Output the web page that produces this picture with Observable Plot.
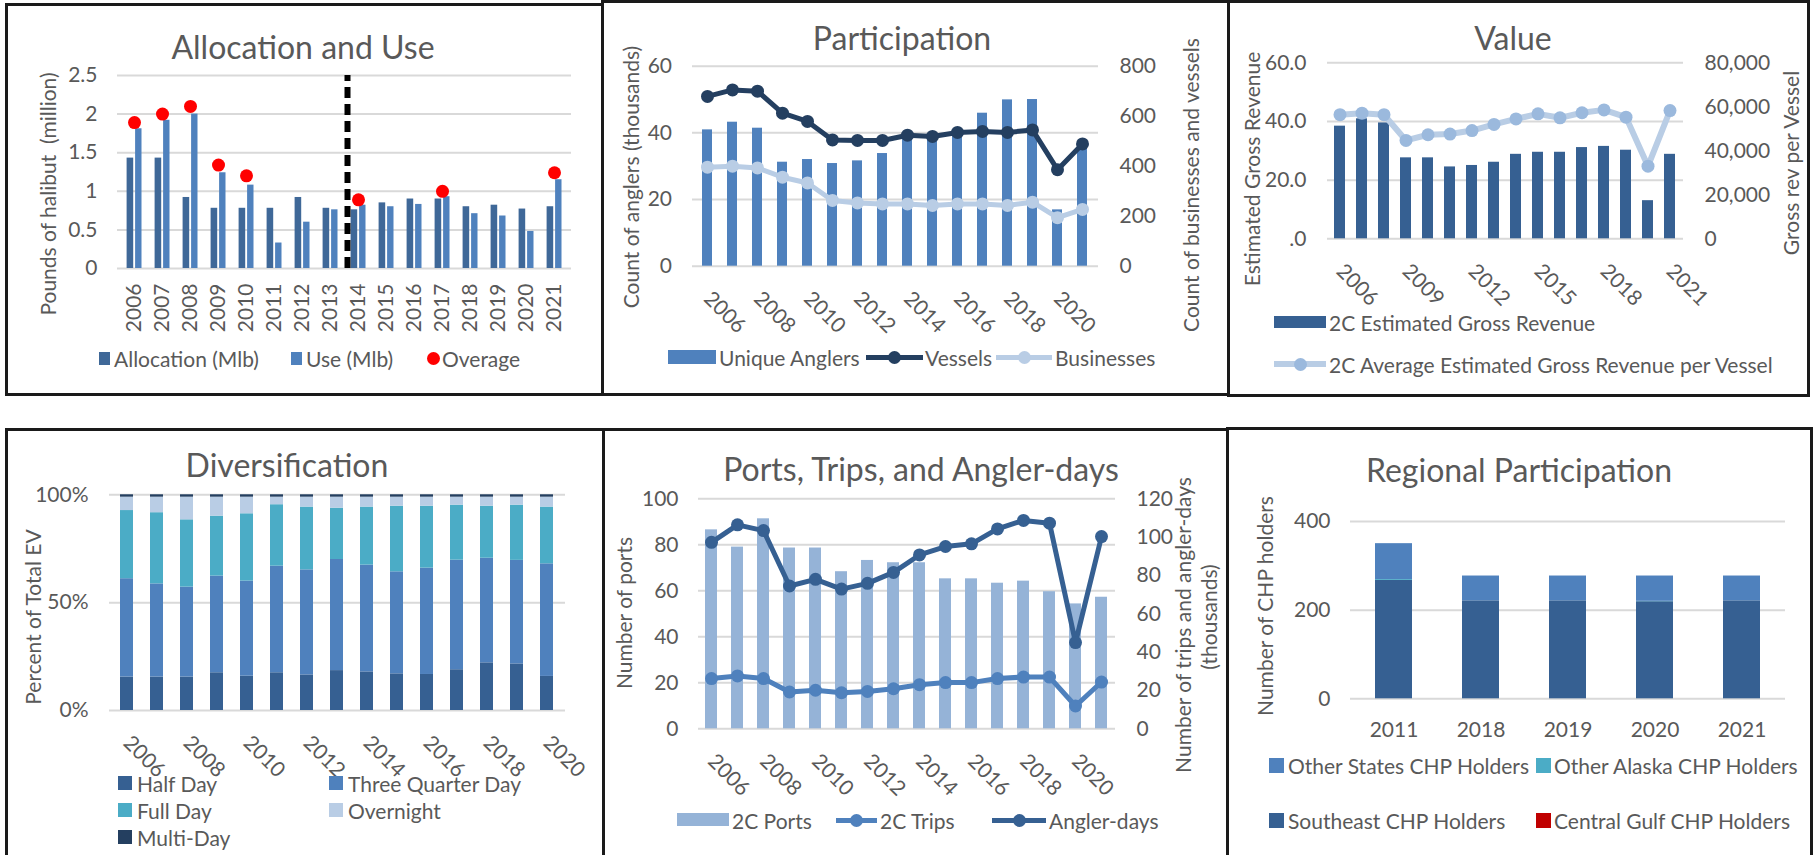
<!DOCTYPE html>
<html><head><meta charset="utf-8">
<script src="https://cdn.jsdelivr.net/npm/d3@7"></script>
<script src="https://cdn.jsdelivr.net/npm/@observablehq/plot@0.6"></script>
<style>
body{margin:0;width:1813px;height:855px;background:#fff;overflow:hidden;position:relative;font-family:Lato,"Open Sans",sans-serif;color:#595959;}
.box{position:absolute;border:3px solid #1a1a1a;box-sizing:border-box;}
.t{position:absolute;white-space:pre;line-height:1;color:#595959;}
.sw{position:absolute;}
</style></head><body>
<script>
// ---------- DATA ----------
const years = ["2006","2007","2008","2009","2010","2011","2012","2013","2014","2015","2016","2017","2018","2019","2020","2021"];
// Allocation and Use (million lb)
const allocation = [1.43,1.43,0.92,0.78,0.78,0.78,0.92,0.78,0.76,0.85,0.90,0.90,0.80,0.82,0.77,0.80];
const use = [1.81,1.92,2.00,1.24,1.08,0.33,0.60,0.76,0.82,0.80,0.83,0.93,0.71,0.68,0.48,1.15];
const overage = [1.89,2.00,2.10,1.34,1.20,null,null,null,0.89,null,null,1.00,null,null,null,1.24];
const allocTicks = [0,0.5,1,1.5,2,2.5];
// Participation
const uniqueAnglers = [40.9,43.2,41.4,31.2,32.0,30.8,31.6,33.8,39.0,39.5,40.2,45.9,49.9,50.0,16.9,36.5];
const vessels = [679,705,700,612,579,505,503,503,524,519,535,539,535,545,386,489];
const businesses = [396,400,393,356,333,263,253,249,249,243,249,249,243,256,194,227];
const anglerTicks = [0,20,40,60];
const countTicks = [0,200,400,600,800];
const evenYearLabels = ["2006","2008","2010","2012","2014","2016","2018","2020"];
// Value
const grossRevenue = [38.4,40.9,39.5,27.6,27.6,24.5,25.0,26.1,28.8,29.5,29.5,31.1,31.5,30.2,13.0,28.8];
const revPerVessel = [56400,57100,56400,44700,47300,47600,49200,52000,54500,56800,55000,57300,58600,55300,33000,58300];
const revenueTicks = [0,20,40,60];
const perVesselTicks = [0,20000,40000,60000,80000];
const valueYearLabels = ["2006","2009","2012","2015","2018","2021"];
// Diversification (% of total EV)
const divYears = years.slice(0,15);
const divCats = ["Half Day","Three Quarter Day","Full Day","Overnight","Multi-Day"];
const halfDay =      [15.5,15.5,15.5,17.5,15.9,17.5,16.5,18.5,17.9,17.0,16.7,18.9,22.1,21.6,15.8];
const threeQuarter = [45.6,43.2,41.7,44.8,44.1,49.4,48.7,51.5,49.5,47.3,49.3,50.8,48.5,48.0,52.2];
const fullDay =      [31.6,33.0,31.2,27.8,31.2,28.5,29.1,23.8,26.9,30.4,28.7,25.5,24.1,25.6,26.3];
const overnight =    [6.2,7.2,10.5,8.8,7.7,3.5,4.6,5.1,4.6,4.2,4.2,3.7,4.2,3.7,4.6];
const multiDay =     [1.1,1.1,1.1,1.1,1.1,1.1,1.1,1.1,1.1,1.1,1.1,1.1,1.1,1.1,1.1];
const pctTicks = [0,50,100];
// Ports, Trips, Angler-days
const ports = [86.5,79.0,91.3,78.6,78.6,68.3,73.2,72.2,72.2,65.2,65.2,63.3,64.2,59.6,54.3,57.2];
const trips = [26.2,27.6,26.2,19.2,20.1,18.8,19.5,20.9,23.0,24.1,24.1,26.2,27.0,27.0,11.9,24.4];
const anglerDays = [97.3,106.4,103.4,74.5,78.0,72.9,75.9,81.6,90.7,95.1,96.5,104.3,108.7,107.3,45.0,100.3];
const portTicks = [0,20,40,60,80,100];
const tripTicks = [0,20,40,60,80,100,120];
// Regional participation
const regYears = ["2011","2018","2019","2020","2021"];
const regCats = ["Southeast CHP Holders","Central Gulf CHP Holders","Other Alaska CHP Holders","Other States CHP Holders"];
const southeast = [267,221,221,219,221];
const centralGulf = [0,0,0,0,0];
const otherAlaska = [2,0,0,1,0];
const otherStates = [81,56,56,57,56];
const chpTicks = [0,200,400];

// ---------- COLORS ----------
const GRID = "#d9d9d9", TXT = "#595959";
const C_ALLOC = "#3f6898", C_USE = "#4f81bd", C_RED = "#ff0000";
const C_ANG = "#4f81bd", C_VES = "#243f60", C_BUS = "#b9cde5";
const C_REV = "#366092", C_RLINE = "#b9cde5", C_RDOT = "#9bb9dd";
const divColors = ["#366092","#4f81bd","#4bacc6","#b9cde5","#243f60"];
const C_PORT = "#95b3d7", C_TRIP = "#4f81bd", C_AD = "#366092";
const regColors = ["#366092","#c00000","#4bacc6","#4f81bd"];

// ---------- HELPERS ----------
const FS = 21, TS = 32;
const baseStyle = {fontFamily:"Lato, 'Open Sans', sans-serif", fontSize:FS+"px", color:TXT, background:"transparent", overflow:"visible"};
function mount(svg, left, top){
  svg.style.position="absolute"; svg.style.left=left+"px"; svg.style.top=top+"px";
  svg.style.overflow="visible"; svg.style.background="transparent";
  document.body.appendChild(svg);
}
function box(l,t,r,b){
  const d=document.createElement("div"); d.className="box";
  Object.assign(d.style,{left:l+"px",top:t+"px",width:(r-l)+"px",height:(b-t)+"px"});
  document.body.appendChild(d);
}
function label(str,x,y,size=FS,rot=0,anchor="middle"){
  const d=document.createElement("div"); d.className="t"; d.textContent=str;
  d.style.fontSize=size+"px"; d.style.left=x+"px"; d.style.top=y+"px";
  d.style.transform=`translate(${anchor==="start"?"0":"-50%"},-50%)`+(rot?` rotate(${rot}deg)`:"");
  document.body.appendChild(d);
}
function rectSw(x,y,w,h,c){
  const d=document.createElement("div"); d.className="sw";
  Object.assign(d.style,{left:x+"px",top:y+"px",width:w+"px",height:h+"px",background:c});
  document.body.appendChild(d);
}
function dotSw(cx,cy,r,c){
  const d=document.createElement("div"); d.className="sw";
  Object.assign(d.style,{left:(cx-r)+"px",top:(cy-r)+"px",width:2*r+"px",height:2*r+"px",background:c,borderRadius:"50%"});
  document.body.appendChild(d);
}
function lineSw(x1,x2,cy,c,w,dc,r){
  rectSw(x1,cy-w/2,x2-x1,w,c); dotSw((x1+x2)/2,cy,r,dc||c);
}

// ---------- BOXES ----------
box(5,3,604,396); box(601,0,1230,396); box(1227,0,1810,397);
box(5,428,605,858); box(602,428,1229,858); box(1226,427,1813,858);

// ---------- PANEL 1: Allocation and Use ----------
const allocTable = years.map((year,i)=>({year, allocation:allocation[i], use:use[i], overage:overage[i]}));
mount(Plot.plot({
  width:602, height:394, marginLeft:117, marginRight:31, marginTop:75, marginBottom:126,
  x:{type:"band", domain:years, paddingInner:0, paddingOuter:0},
  y:{domain:[0,2.5]},
  style:baseStyle,
  marks:[
    Plot.ruleY(allocTicks,{stroke:GRID, strokeWidth:2}),
    Plot.barY(allocTable,{x:"year", y:"allocation", fill:C_ALLOC, insetLeft:6.6, insetRight:14.8}),
    Plot.barY(allocTable,{x:"year", y:"use", fill:C_USE, insetLeft:15.1, insetRight:6.5}),
    Plot.ruleX(["2014"],{x:d=>d, y1:0, y2:2.5, stroke:"#000", strokeWidth:6, strokeDasharray:"11 6", dx:-11}),
    Plot.dot(allocTable.filter(d=>d.overage!=null),{x:"year", y:"overage", r:6.5, fill:C_RED}),
    Plot.axisY(allocTicks,{tickSize:0, tickPadding:20, label:null, tickFormat:d=>String(d)}),
    Plot.axisX({tickSize:0, tickPadding:15, tickRotate:-90, label:null})
  ]
}),0,0);
label("Allocation and Use",303,47,TS);
label("Pounds of halibut  (million)",47,194,FS,-90);
rectSw(99,352,11,13,C_ALLOC); label("Allocation (Mlb)",114,358,FS,0,"start");
rectSw(291,352,11,13,C_USE); label("Use (Mlb)",306,358,FS,0,"start");
dotSw(433,358,6.5,C_RED); label("Overage",442,358,FS,0,"start");

// ---------- PANEL 2: Participation ----------
const partTable = years.map((year,i)=>({year, anglers:uniqueAnglers[i], vessels:vessels[i], businesses:businesses[i]}));
const xPart = {type:"band", domain:years, paddingInner:0.594, paddingOuter:0.297};
const p2dims = {width:626, height:394, marginLeft:90, marginRight:130, marginTop:65.7, marginBottom:128.3};
mount(Plot.plot({...p2dims, x:xPart, y:{domain:[0,60]}, style:baseStyle, marks:[
  Plot.ruleY(anglerTicks,{stroke:GRID, strokeWidth:2}),
  Plot.barY(partTable,{x:"year", y:"anglers", fill:C_ANG}),
  Plot.axisY(anglerTicks,{tickSize:0, tickPadding:20.5, label:null}),
  Plot.axisX(evenYearLabels,{tickSize:0, tickPadding:29, tickRotate:45, label:null})
]}),602,0);
mount(Plot.plot({...p2dims, x:{...xPart, axis:null}, y:{domain:[0,800]}, style:baseStyle, marks:[
  Plot.line(partTable,{x:"year", y:"vessels", stroke:C_VES, strokeWidth:5}),
  Plot.dot(partTable,{x:"year", y:"vessels", r:6.5, fill:C_VES}),
  Plot.line(partTable,{x:"year", y:"businesses", stroke:C_BUS, strokeWidth:5}),
  Plot.dot(partTable,{x:"year", y:"businesses", r:6.5, fill:C_BUS}),
  Plot.axisY(countTicks,{anchor:"right", tickSize:0, tickPadding:21, label:null})
]}),602,0);
label("Participation",902,38,TS);
label("Count of anglers (thousands)",630,177,FS,-90);
label("Count of businesses and vessels",1190,185,FS,-90);
rectSw(668,350,48,14,C_ANG); label("Unique Anglers",719,357,FS,0,"start");
lineSw(866,923,357,C_VES,5,C_VES,6.5); label("Vessels",925,357,FS,0,"start");
lineSw(996,1052,357,C_BUS,5,C_BUS,6.5); label("Businesses",1055,357,FS,0,"start");

// ---------- PANEL 3: Value ----------
const valTable = years.map((year,i)=>({year, revenue:grossRevenue[i], perVessel:revPerVessel[i]}));
const xVal = {type:"band", domain:years, paddingInner:0.49, paddingOuter:0.245};
const p3dims = {width:580, height:395, marginLeft:99, marginRight:125, marginTop:62.3, marginBottom:156.7};
mount(Plot.plot({...p3dims, x:xVal, y:{domain:[0,60]}, style:baseStyle, marks:[
  Plot.ruleY(revenueTicks,{stroke:GRID, strokeWidth:2}),
  Plot.barY(valTable,{x:"year", y:"revenue", fill:C_REV}),
  Plot.axisY(revenueTicks,{tickSize:0, tickPadding:21, label:null, tickFormat:d=>d===0?".0":d.toFixed(1)}),
  Plot.axisX(valueYearLabels,{tickSize:0, tickPadding:29, tickRotate:45, label:null})
]}),1228,0);
mount(Plot.plot({...p3dims, x:{...xVal, axis:null}, y:{domain:[0,80000]}, style:baseStyle, marks:[
  Plot.line(valTable,{x:"year", y:"perVessel", stroke:C_RLINE, strokeWidth:6}),
  Plot.dot(valTable,{x:"year", y:"perVessel", r:6.5, fill:C_RDOT}),
  Plot.axisY(perVesselTicks,{anchor:"right", tickSize:0, tickPadding:21, label:null, tickFormat:d3.format(",")})
]}),1228,0);
label("Value",1513,38,TS);
label("Estimated Gross Revenue",1251,169,FS,-90);
label("Gross rev per Vessel",1790,163,FS,-90);
rectSw(1274,316,52,12,C_REV); label("2C Estimated Gross Revenue",1329,322,FS,0,"start");
lineSw(1274,1326,364,C_RLINE,6,C_RDOT,6.5); label("2C Average Estimated Gross Revenue per Vessel",1329,364,FS,0,"start");

// ---------- PANEL 4: Diversification ----------
const divSeries = [halfDay,threeQuarter,fullDay,overnight,multiDay];
const divTable = divYears.flatMap((year,i)=>divCats.map((cat,j)=>({year, cat, value:divSeries[j][i]})));
mount(Plot.plot({
  width:603, height:330, marginLeft:109, marginRight:38, marginTop:66.3, marginBottom:48,
  x:{type:"band", domain:divYears, paddingInner:0.56, paddingOuter:0.28},
  y:{domain:[0,100]},
  color:{domain:divCats, range:divColors},
  style:baseStyle,
  marks:[
    Plot.ruleY(pctTicks,{stroke:GRID, strokeWidth:2}),
    Plot.barY(divTable,{x:"year", y:"value", fill:"cat"}),
    Plot.axisY(pctTicks,{tickSize:0, tickPadding:21, label:null, tickFormat:d=>d+"%"}),
    Plot.axisX(evenYearLabels,{tickSize:0, tickPadding:29, tickRotate:45, label:null})
  ]
}),0,428);
label("Diversification",287,465,TS);
label("Percent of Total EV",32,617,FS,-90);
[[0,118,776],[1,329,776],[2,118,803],[3,329,803],[4,118,830]].forEach(([j,x,y])=>{
  rectSw(x,y,14,14,divColors[j]); label(divCats[j],x+19,y+7,FS,0,"start");
});

// ---------- PANEL 5: Ports, Trips, Angler-days ----------
const portTable = years.map((year,i)=>({year, ports:ports[i], trips:trips[i], anglerDays:anglerDays[i]}));
const xPort = {type:"band", domain:years, paddingInner:0.53, paddingOuter:0.265};
const p5dims = {width:624, height:380, marginLeft:95, marginRight:112, marginTop:70.3, marginBottom:79.7};
mount(Plot.plot({...p5dims, x:xPort, y:{domain:[0,100]}, style:baseStyle, marks:[
  Plot.ruleY(portTicks,{stroke:GRID, strokeWidth:2}),
  Plot.barY(portTable,{x:"year", y:"ports", fill:C_PORT}),
  Plot.axisY(portTicks,{tickSize:0, tickPadding:20, label:null}),
  Plot.axisX(evenYearLabels,{tickSize:0, tickPadding:29, tickRotate:45, label:null})
]}),603,428);
mount(Plot.plot({...p5dims, x:{...xPort, axis:null}, y:{domain:[0,120]}, style:baseStyle, marks:[
  Plot.line(portTable,{x:"year", y:"trips", stroke:C_TRIP, strokeWidth:5}),
  Plot.dot(portTable,{x:"year", y:"trips", r:6.5, fill:C_TRIP}),
  Plot.line(portTable,{x:"year", y:"anglerDays", stroke:C_AD, strokeWidth:5}),
  Plot.dot(portTable,{x:"year", y:"anglerDays", r:6.5, fill:C_AD}),
  Plot.axisY(tripTicks,{anchor:"right", tickSize:0, tickPadding:21, label:null})
]}),603,428);
label("Ports, Trips, and Angler-days",921,469,TS);
label("Number of ports",623,613,FS,-90);
label("Number of trips and angler-days",1182,625,FS,-90);
label("(thousands)",1208,617,FS,-90);
rectSw(677,813,52,13,C_PORT); label("2C Ports",732,820,FS,0,"start");
lineSw(836,877,820,C_TRIP,5,C_TRIP,6.5); label("2C Trips",880,820,FS,0,"start");
lineSw(992,1046,820,C_AD,5,C_AD,6.5); label("Angler-days",1049,820,FS,0,"start");

// ---------- PANEL 6: Regional Participation ----------
const regSeries = [southeast,centralGulf,otherAlaska,otherStates];
const regTable = regYears.flatMap((year,i)=>regCats.map((cat,j)=>({year, cat, value:regSeries[j][i]})));
mount(Plot.plot({
  width:583, height:330, marginLeft:122, marginRight:26, marginTop:93, marginBottom:59.7,
  x:{type:"band", domain:regYears, paddingInner:0.575, paddingOuter:0.2875},
  y:{domain:[0,400]},
  color:{domain:regCats, range:regColors},
  style:baseStyle,
  marks:[
    Plot.ruleY(chpTicks,{stroke:GRID, strokeWidth:2}),
    Plot.barY(regTable,{x:"year", y:"value", fill:"cat"}),
    Plot.axisY(chpTicks,{tickSize:0, tickPadding:20, label:null}),
    Plot.axisX({tickSize:0, tickPadding:23, label:null})
  ]
}),1228,428);
label("Regional Participation",1519,470,TS);
label("Number of CHP holders",1264,606,FS,-90);
rectSw(1269,758,15,15,regColors[3]); label("Other States CHP Holders",1288,765,FS,0,"start");
rectSw(1536,758,15,15,regColors[2]); label("Other Alaska CHP Holders",1554,765,FS,0,"start");
rectSw(1269,813,15,15,regColors[0]); label("Southeast CHP Holders",1288,820,FS,0,"start");
rectSw(1536,813,15,15,regColors[1]); label("Central Gulf CHP Holders",1554,820,FS,0,"start");
</script>
</body></html>
